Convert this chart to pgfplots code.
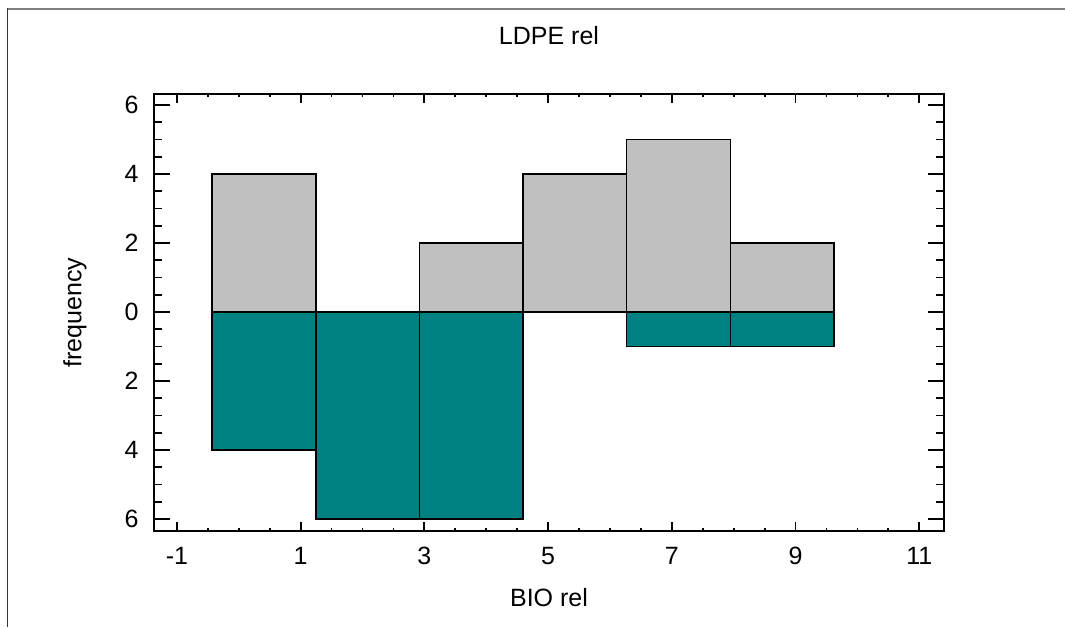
\documentclass[border=0pt]{standalone}
\usepackage{pgfplots}
\pgfplotsset{compat=1.18}
\usepackage{fontspec}
\setmainfont{Liberation Sans}
\definecolor{barGray}{HTML}{C0C0C0}
\definecolor{barTeal}{HTML}{008080}
\definecolor{frameGray}{HTML}{808080}
\begin{document}%
\begin{tikzpicture}[font=\fontsize{12.5}{15}\selectfont]
% page frame
\useasboundingbox (0,0) rectangle (532.5pt,313.5pt);
\draw[frameGray, line width=1pt] (3.5pt,309pt) -- (532.5pt,309pt);
\draw[black!80, line width=0.5pt] (3.65pt,309.5pt) -- (3.65pt,0pt);
\begin{axis}[
  at={(77pt,48pt)}, anchor=south west,
  scale only axis, width=395pt, height=218.5pt,
  xmin=-1.37, xmax=11.40, ymin=-6.35, ymax=6.32,
  xtick={-1,1,3,5,7,9,11}, xticklabels={-1,1,3,5,7,9,11},
  ytick={-6,-4,-2,0,2,4,6}, yticklabels={6,4,2,0,2,4,6},
  minor x tick num=3, minor y tick num=3,
  tick align=inside,
  axis line style={line width=1pt},
  xtick style={black, line width=0.9pt, /pgfplots/major tick length=4.5pt, /pgfplots/minor tick length=1.5pt},
  ytick style={black, line width=0.9pt, /pgfplots/major tick length=8pt, /pgfplots/minor tick length=4pt},
  ticklabel style={font=\fontsize{12.5}{15}\selectfont},
  xticklabel style={anchor=north, inner sep=0pt, yshift=-8pt},
  yticklabel style={anchor=east, inner sep=0pt, xshift=-7.5pt},
  label style={font=\fontsize{12.5}{15}\selectfont},
  title={LDPE rel},
  title style={at={(0.5,1)}, anchor=base, yshift=18.5pt, inner sep=0pt, font=\fontsize{12.5}{15}\selectfont},
  xlabel={BIO rel},
  xlabel style={at={(axis description cs:0.5,0)}, anchor=base, yshift=-37.8pt, inner sep=0pt},
  ylabel={frequency},
  ylabel style={at={(axis description cs:-0.1,0.5)}, anchor=center, inner sep=0pt},
]
% upper histogram (LDPE rel)
\addplot[ybar interval, fill=barGray, draw=black, line width=0.75pt]
  coordinates {(-0.43,4) (1.245,0) (2.92,2) (4.595,4) (6.27,5) (7.945,2) (9.62,2)};
% lower histogram (BIO rel), drawn downward
\addplot[ybar interval, fill=barTeal, draw=black, line width=0.75pt]
  coordinates {(-0.43,-4) (1.245,-6) (2.92,-6) (4.595,0) (6.27,-1) (7.945,-1) (9.62,-1)};
\end{axis}
\end{tikzpicture}%
\end{document}
